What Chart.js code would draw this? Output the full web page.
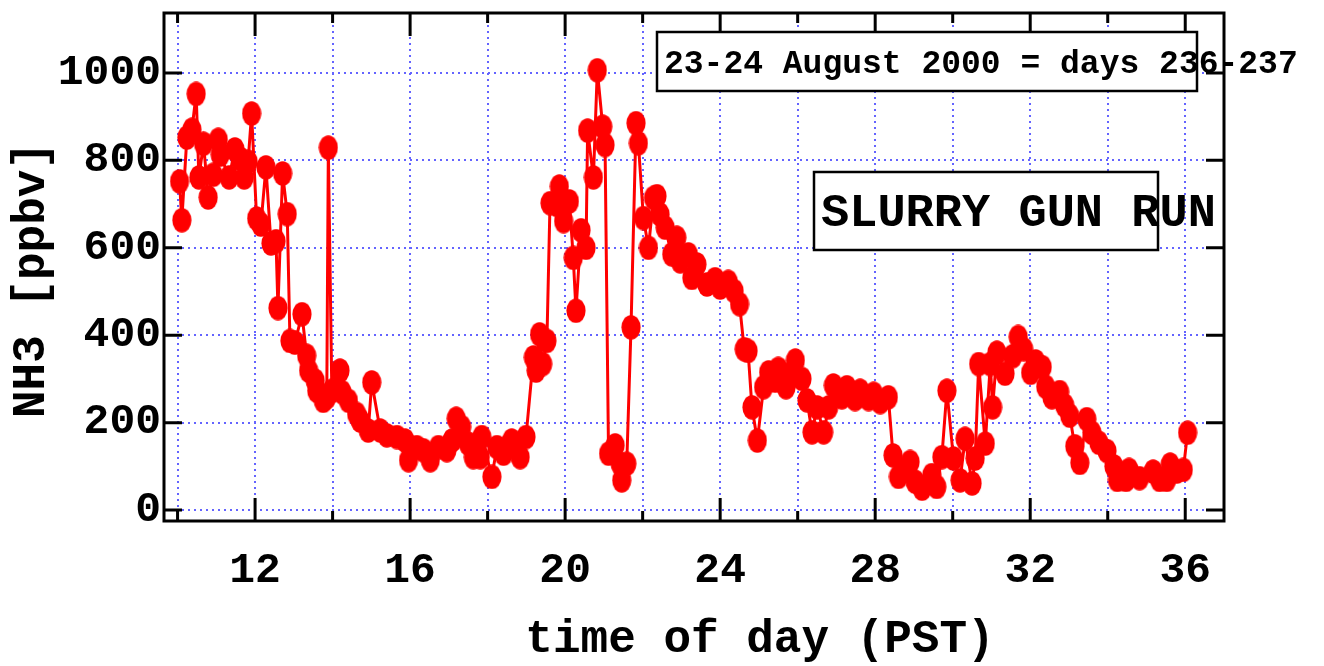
<!DOCTYPE html>
<html>
<head>
<meta charset="utf-8">
<script src="https://cdn.jsdelivr.net/npm/chart.js@4/dist/chart.umd.min.js"></script>
<style>
  html, body { margin: 0; padding: 0; background: #fff; }
  #wrap { width: 1324px; height: 666px; }
</style>
</head>
<body>
<div id="wrap"><canvas id="grafico" width="1324" height="666"></canvas></div>
<script>
// time of day (PST), hours since midnight of day 236
const horas = [
  10.05, 10.11, 10.24, 10.37, 10.48, 10.55, 10.67, 10.79, 10.92, 11.05,
  11.10, 11.33, 11.48, 11.61, 11.72, 11.82, 11.91, 12.04, 12.15, 12.28,
  12.41, 12.54, 12.59, 12.71, 12.83, 12.90, 13.03, 13.21, 13.33, 13.38,
  13.55, 13.59, 13.76, 13.85, 13.89, 13.98, 14.19, 14.24, 14.41, 14.62,
  14.71, 14.92, 15.01, 15.23, 15.40, 15.66, 15.87, 15.96, 16.17, 16.34,
  16.52, 16.73, 16.95, 17.08, 17.19, 17.33, 17.50, 17.63, 17.81, 17.85,
  18.11, 18.24, 18.41, 18.45, 18.62, 18.84, 18.99, 19.18, 19.25, 19.34,
  19.42, 19.53, 19.61, 19.79, 19.85, 19.96, 20.11, 20.21, 20.28, 20.41,
  20.54, 20.58, 20.73, 20.83, 20.97, 21.03, 21.12, 21.29, 21.42, 21.46,
  21.59, 21.70, 21.83, 21.89, 22.02, 22.15, 22.28, 22.37, 22.45, 22.58,
  22.75, 22.88, 22.97, 23.18, 23.27, 23.40, 23.66, 23.87, 24.00, 24.21,
  24.36, 24.50, 24.62, 24.72, 24.82, 24.96, 25.12, 25.25, 25.42, 25.50,
  25.70, 25.81, 25.94, 26.11, 26.24, 26.37, 26.50, 26.67, 26.80, 26.92,
  27.14, 27.27, 27.48, 27.61, 27.83, 27.96, 28.13, 28.34, 28.46, 28.60,
  28.77, 28.90, 29.03, 29.21, 29.46, 29.59, 29.72, 29.85, 30.02, 30.19,
  30.32, 30.50, 30.58, 30.67, 30.84, 30.97, 31.03, 31.14, 31.35, 31.55,
  31.69, 31.83, 32.01, 32.14, 32.31, 32.40, 32.56, 32.76, 32.89, 33.02,
  33.15, 33.28, 33.46, 33.59, 33.77, 33.98, 34.16, 34.25, 34.47, 34.55,
  34.82, 35.17, 35.34, 35.52, 35.61, 35.78, 35.95, 36.06
];

// NH3 mixing ratio [ppbv]
const nh3 = [
  752, 663, 852, 870, 952, 761, 838, 715, 767, 847,
  813, 761, 825, 804, 761, 797, 907, 667, 653, 784,
  610, 615, 462, 770, 677, 387, 383, 448, 353, 319,
  296, 273, 250, 258, 829, 273, 319, 270, 250, 220,
  205, 182, 292, 182, 171, 167, 159, 114, 144, 137,
  114, 144, 137, 159, 209, 190, 152, 121, 121, 167,
  76, 144, 129, 140, 159, 121, 167, 349, 319, 402,
  334, 387, 702, 698, 740, 661, 706, 577, 456, 640,
  600, 868, 761, 1006, 877, 835, 129, 148, 106, 68,
  106, 418, 885, 839, 668, 600, 714, 718, 676, 646,
  585, 623, 569, 585, 531, 562, 516, 528, 509, 522,
  501, 471, 368, 364, 235, 159, 281, 315, 296, 323,
  281, 311, 342, 300, 251, 178, 235, 178, 235, 285,
  258, 281, 254, 273, 254, 266, 247, 258, 125, 76,
  91, 110, 65, 49, 80, 53, 121, 273, 118, 68,
  163, 61, 118, 334, 152, 334, 235, 360, 312, 352,
  396, 368, 314, 340, 327, 282, 258, 270, 239, 216,
  146, 108, 208, 177, 154, 135, 100, 69, 69, 92,
  73, 88, 69, 69, 104, 88, 92, 177
];

// tick positions (labels only on every 4 h)
const ticksX = [10, 12, 14, 16, 18, 20, 22, 24, 26, 28, 30, 32, 34, 36];
const ticksY = [0, 200, 400, 600, 800, 1000];

const tituloX = 'time of day (PST)';
const tituloY = 'NH3 [ppbv]';
const notaDias = '23-24 August 2000 = days 236-237';
const notaRun = 'SLURRY GUN RUN';

const FONTE = '"Liberation Mono", "Courier New", monospace';

// red dots are slightly taller than wide
const bolinha = document.createElement('canvas');
bolinha.width = 20;
bolinha.height = 25;
(function () {
    const c = bolinha.getContext('2d');
    c.fillStyle = '#ff0000';
    c.beginPath();
    c.ellipse(10, 12.5, 9.6, 12.2, 0, 0, Math.PI * 2);
    c.fill();
})();

// frame, inward tick marks, axis titles and the two boxed notes
const moldura = {
    id: 'moldura',
    afterDraw(chart) {
        const ctx = chart.ctx;
        const a = chart.chartArea;
        const sx = chart.scales.x;
        const sy = chart.scales.y;
        ctx.save();
        ctx.strokeStyle = '#000';
        ctx.lineWidth = 3;
        ctx.strokeRect(a.left, a.top, a.right - a.left, a.bottom - a.top);

        ctx.beginPath();
        sx.ticks.forEach(t => {
            const px = sx.getPixelForValue(t.value);
            const len = (t.value % 4 === 0) ? 23 : 10;
            ctx.moveTo(px, a.bottom); ctx.lineTo(px, a.bottom - len);
            ctx.moveTo(px, a.top); ctx.lineTo(px, a.top + len);
        });
        sy.ticks.forEach(t => {
            const py = sy.getPixelForValue(t.value);
            ctx.moveTo(a.left, py); ctx.lineTo(a.left + 18, py);
            ctx.moveTo(a.right, py); ctx.lineTo(a.right - 18, py);
        });
        ctx.stroke();

        // axis titles
        ctx.fillStyle = '#000';
        ctx.font = 'bold 46px ' + FONTE;
        ctx.textAlign = 'center';
        ctx.textBaseline = 'middle';
        ctx.fillText(tituloX, 760, 640);
        ctx.save();
        ctx.translate(32, 280);
        ctx.rotate(-Math.PI / 2);
        ctx.fillText(tituloY, 0, 0);
        ctx.restore();

        // boxed notes
        ctx.lineWidth = 2.5;
        ctx.fillStyle = '#fff';
        ctx.fillRect(657, 32, 540, 59);
        ctx.strokeRect(657, 32, 540, 59);
        ctx.fillRect(814, 172, 344, 78);
        ctx.strokeRect(814, 172, 344, 78);

        ctx.fillStyle = '#000';
        ctx.textAlign = 'left';
        ctx.font = 'bold 33px ' + FONTE;
        ctx.fillText(notaDias, 664, 65);
        ctx.font = 'bold 47px ' + FONTE;
        ctx.fillText(notaRun, 821, 214);
        ctx.restore();
    }
};

const canvas = document.querySelector('#grafico');

new Chart(canvas, {
    type: 'scatter',
    data: {
        datasets: [{
            label: 'NH3',
            data: horas.map((h, i) => ({ x: h, y: nh3[i] })),
            showLine: true,
            borderColor: '#ff0000',
            borderWidth: 3,
            pointStyle: bolinha,
            pointRadius: 10,
            pointBackgroundColor: '#ff0000',
            pointBorderColor: '#ff0000'
        }]
    },
    options: {
        responsive: false,
        animation: false,
        layout: { padding: { top: 11, right: 100, left: 0, bottom: 0 } },
        plugins: {
            legend: { display: false },
            tooltip: { enabled: false }
        },
        scales: {
            x: {
                type: 'linear',
                min: 9.65,
                max: 37.0,
                afterFit: s => { s.height = 145; s.paddingLeft = 0; s.paddingRight = 0; },
                afterBuildTicks: s => { s.ticks = ticksX.map(v => ({ value: v })); },
                grid: { color: '#6464ff', lineWidth: 2, drawTicks: false },
                border: { display: false, dash: [2, 4] },
                ticks: {
                    autoSkip: false,
                    maxRotation: 0,
                    padding: 24,
                    color: '#000',
                    font: { family: FONTE, size: 43, weight: 'bold' },
                    callback: v => (v % 4 === 0) ? String(v) : ''
                }
            },
            y: {
                min: -25,
                max: 1137,
                afterFit: s => { s.width = 164; s.paddingTop = 0; s.paddingBottom = 0; },
                afterBuildTicks: s => { s.ticks = ticksY.map(v => ({ value: v })); },
                grid: { color: '#6464ff', lineWidth: 2, drawTicks: false },
                border: { display: false, dash: [2, 4] },
                ticks: {
                    autoSkip: false,
                    padding: 3,
                    color: '#000',
                    font: { family: FONTE, size: 43, weight: 'bold' },
                    callback: v => String(v)
                }
            }
        }
    },
    plugins: [moldura]
});
</script>
</body>
</html>
